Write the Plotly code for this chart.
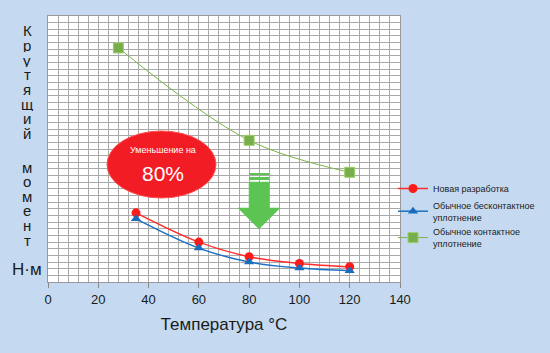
import plotly.graph_objects as go

# Data
temps_new = [35, 60, 80, 100, 120]
torque_new = [10.4, 6.0, 3.8, 2.8, 2.3]
temps_nc = [35, 60, 80, 100, 120]
torque_nc = [9.5, 5.1, 3.0, 2.1, 1.7]
temps_c = [28, 80, 120]
torque_c = [35.2, 21.3, 16.5]
x_ticks = [0, 20, 40, 60, 80, 100, 120, 140]
names = ["Новая разработка", "Обычное бесконтактное<br>уплотнение", "Обычное контактное<br>уплотнение"]
word1 = "Крутящий"
word2 = "момент"
unit = "Н·м"

BG = "#c5daf0"
# plot area pixels
L, R, T, B = 48, 400, 16, 282
W, H = 550, 353

def px(xp):
    return (xp - L) / (R - L) * 140.0

def py(yp):
    return (B - yp) / (B - T) * 40.0

def ppy(yp):
    return (B - yp) / (B - T)

def ppx(xp):
    return (xp - L) / (R - L)

fig = go.Figure()
fig.add_trace(go.Scatter(x=temps_new, y=torque_new, name=names[0], mode="lines+markers",
                         line=dict(color="#ff2a2a", width=1.5, shape="spline"),
                         marker=dict(symbol="circle", size=9, color="#ff1a1a")))
fig.add_trace(go.Scatter(x=temps_nc, y=torque_nc, name=names[1], mode="lines+markers",
                         line=dict(color="#1a72c4", width=1.5, shape="spline"),
                         marker=dict(symbol="triangle-up", size=9, color="#1a6cbc")))
fig.add_trace(go.Scatter(x=temps_c, y=torque_c, name=names[2], mode="lines+markers",
                         line=dict(color="#7cb34a", width=1, shape="spline"),
                         marker=dict(symbol="square", size=10, color="#77ad4a",
                                     line=dict(color="#9ccf6a", width=1))))

shapes = []
# red ellipse
shapes.append(dict(type="circle", xref="x", yref="y",
                   x0=px(107), x1=px(216), y0=py(198), y1=py(131),
                   fillcolor="#f21c24", line=dict(color="#ff5050", width=1), layer="above"))
# green arrow
ac = "#5cc452"
shapes.append(dict(type="rect", xref="x", yref="y", x0=px(249), x1=px(269), y0=py(175), y1=py(173),
                   fillcolor=ac, line=dict(width=0), layer="above"))
shapes.append(dict(type="rect", xref="x", yref="y", x0=px(249), x1=px(269), y0=py(180), y1=py(177),
                   fillcolor=ac, line=dict(width=0), layer="above"))
path = "M {a},{b} L {c},{b} L {c},{d} L {e},{d} L {f},{g} L {h},{d} L {i},{d} Z".format(
    a=px(249), b=py(182), c=px(269), d=py(208), e=px(280), f=px(259), g=py(229), h=px(238), i=px(249))
shapes.append(dict(type="path", xref="x", yref="y", path=path, fillcolor=ac,
                   line=dict(color=ac, width=0.5), layer="above"))

annotations = [
    dict(x=px(163), y=py(150), xref="x", yref="y", text="Уменьшение на", showarrow=False,
         font=dict(family="Liberation Sans, Arial, sans-serif", size=9, color="white")),
    dict(x=px(163), y=py(173), xref="x", yref="y", text="80%", showarrow=False,
         font=dict(family="Liberation Sans, Arial, sans-serif", size=21, color="white")),
]
# vertical y-axis label (stacked letters)
lab_font = dict(family="Liberation Sans, Arial, sans-serif", size=15, color="#1a1a1a")
for i, ch in enumerate(word1):
    annotations.append(dict(x=ppx(27), y=ppy(31 + i * 14.6), xref="paper", yref="paper", text=ch,
                            showarrow=False, xanchor="center", yanchor="middle", font=lab_font,
                            height=13, borderpad=0))
for i, ch in enumerate(word2):
    annotations.append(dict(x=ppx(27), y=ppy(167 + i * 14.6), xref="paper", yref="paper", text=ch,
                            showarrow=False, xanchor="center", yanchor="middle", font=lab_font,
                            height=13, borderpad=0))
annotations.append(dict(x=ppx(27), y=ppy(269), xref="paper", yref="paper", text=unit, showarrow=False,
                        xanchor="center", yanchor="middle",
                        font=dict(family="Liberation Sans, Arial, sans-serif", size=17, color="#1a1a1a")))

fig.update_layout(
    width=W, height=H,
    margin=dict(l=L, r=W - R, t=T, b=H - B, autoexpand=False),
    paper_bgcolor=BG, plot_bgcolor="white",
    shapes=shapes, annotations=annotations,
    legend=dict(x=ppx(393), y=ppy(174), xanchor="left", yanchor="top",
                font=dict(family="Liberation Sans, Arial, sans-serif", size=9, color="#1a1a1a"),
                bgcolor="rgba(0,0,0,0)", itemwidth=30, tracegroupgap=0),
    xaxis=dict(range=[0, 140], tickvals=x_ticks, ticks="outside", ticklen=5, tickcolor="#888",
               showgrid=False, zeroline=False, showline=True, linecolor="#999", mirror=True,
               minor=dict(dtick=4, showgrid=True, gridcolor="#a9a9a9", gridwidth=1),
               tickfont=dict(family="Liberation Sans, Arial, sans-serif", size=13, color="#1a1a1a"),
               title=dict(text="Температура °C", standoff=12,
                          font=dict(family="Liberation Sans, Arial, sans-serif", size=17, color="#1a1a1a"))),
    yaxis=dict(range=[0, 40], showticklabels=False, dtick=1, showgrid=True, gridcolor="#a9a9a9",
               gridwidth=1, zeroline=False, showline=True, linecolor="#999", mirror=True, ticks=""),
)

fig.write_html("out.html")
